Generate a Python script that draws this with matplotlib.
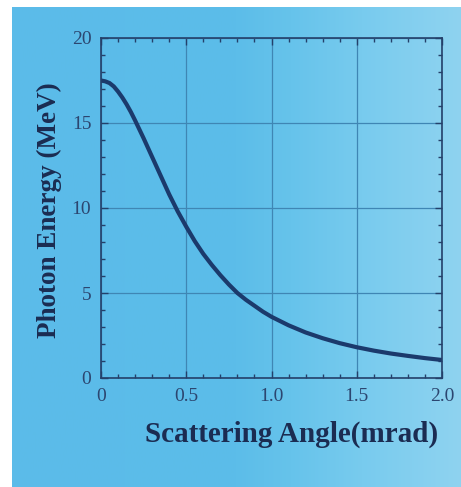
import numpy as np
import matplotlib.pyplot as plt
from matplotlib.colors import LinearSegmentedColormap

# scattering angle (mrad) vs photon energy (MeV)
angle = [0.0, 0.025, 0.05, 0.075, 0.1, 0.125, 0.15, 0.175, 0.2, 0.25, 0.3,
         0.35, 0.4, 0.45, 0.5, 0.55, 0.6, 0.65, 0.7, 0.75, 0.8, 0.85, 0.9,
         0.95, 1.0, 1.1, 1.2, 1.3, 1.4, 1.5, 1.6, 1.7, 1.8, 1.9, 2.0]
energy = [17.5, 17.45, 17.35, 17.15, 16.85, 16.5, 16.1, 15.65, 15.15, 14.1,
          13.0, 11.9, 10.8, 9.8, 8.9, 8.05, 7.3, 6.65, 6.05, 5.5, 5.0, 4.6,
          4.25, 3.9, 3.6, 3.1, 2.68, 2.34, 2.05, 1.81, 1.61, 1.44, 1.3, 1.17,
          1.06]
xticks = [0, 0.5, 1.0, 1.5, 2.0]
xticklabels = ["0", "0.5", "1.0", "1.5", "2.0"]
yticks = [0, 5, 10, 15, 20]

INK = "#1b2c52"
GRIDC = "#3f86b4"
W, H = 461, 487

fig = plt.figure(figsize=(W / 100, H / 100), dpi=100)
fig.patch.set_facecolor("white")

# scanned blue backdrop with the lighter right side
bg = fig.add_axes([12 / W, 0, (W - 12) / W, (H - 7) / H])
bg.set_axis_off()
cmap = LinearSegmentedColormap.from_list(
    "scan", [(0.0, "#5bbbe9"), (0.5, "#5cbde9"), (0.62, "#66c3eb"),
             (0.78, "#78cbee"), (1.0, "#8fd3f0")])
bg.imshow(np.linspace(0, 1, 256)[None, :], aspect="auto", cmap=cmap,
          extent=[0, 1, 0, 1])

ax = fig.add_axes([101 / W, 1 - 378 / H, 341 / W, 340 / H])
ax.patch.set_alpha(0)
ax.plot(angle, energy, color="#1b3a6c", linewidth=3.0, solid_capstyle="round")

ax.set_xlim(0, 2.0)
ax.set_ylim(0, 20)
ax.set_xticks(xticks)
ax.set_xticklabels(xticklabels)
ax.set_yticks(yticks)
ax.set_xticks(np.arange(0, 2.01, 0.1), minor=True)
ax.set_yticks(np.arange(0, 20.1, 1), minor=True)
ax.grid(True, which="major", color=GRIDC, linewidth=0.9)
ax.set_axisbelow(True)
for sp in ax.spines.values():
    sp.set_color("#24406a")
    sp.set_linewidth(1.2)
ax.tick_params(which="both", direction="in", top=True, right=True,
               colors="#24406a")
ax.tick_params(which="major", length=5, width=1.0, pad=7,
               labelsize=14, labelcolor="#2c4670")
ax.tick_params(which="minor", length=3, width=1.0)
for lab in ax.get_xticklabels() + ax.get_yticklabels():
    lab.set_family("Liberation Serif")

ax.set_xlabel("Scattering Angle(mrad)", family="Liberation Serif",
              fontsize=21, fontweight="bold", color=INK)
ax.xaxis.set_label_coords(0.56, -0.125)
ax.set_ylabel("Photon Energy (MeV)", family="Liberation Serif",
              fontsize=19.5, fontweight="bold", color=INK)
ax.yaxis.set_label_coords(-0.114, 0.494)

fig.savefig("out.png", dpi=100)
